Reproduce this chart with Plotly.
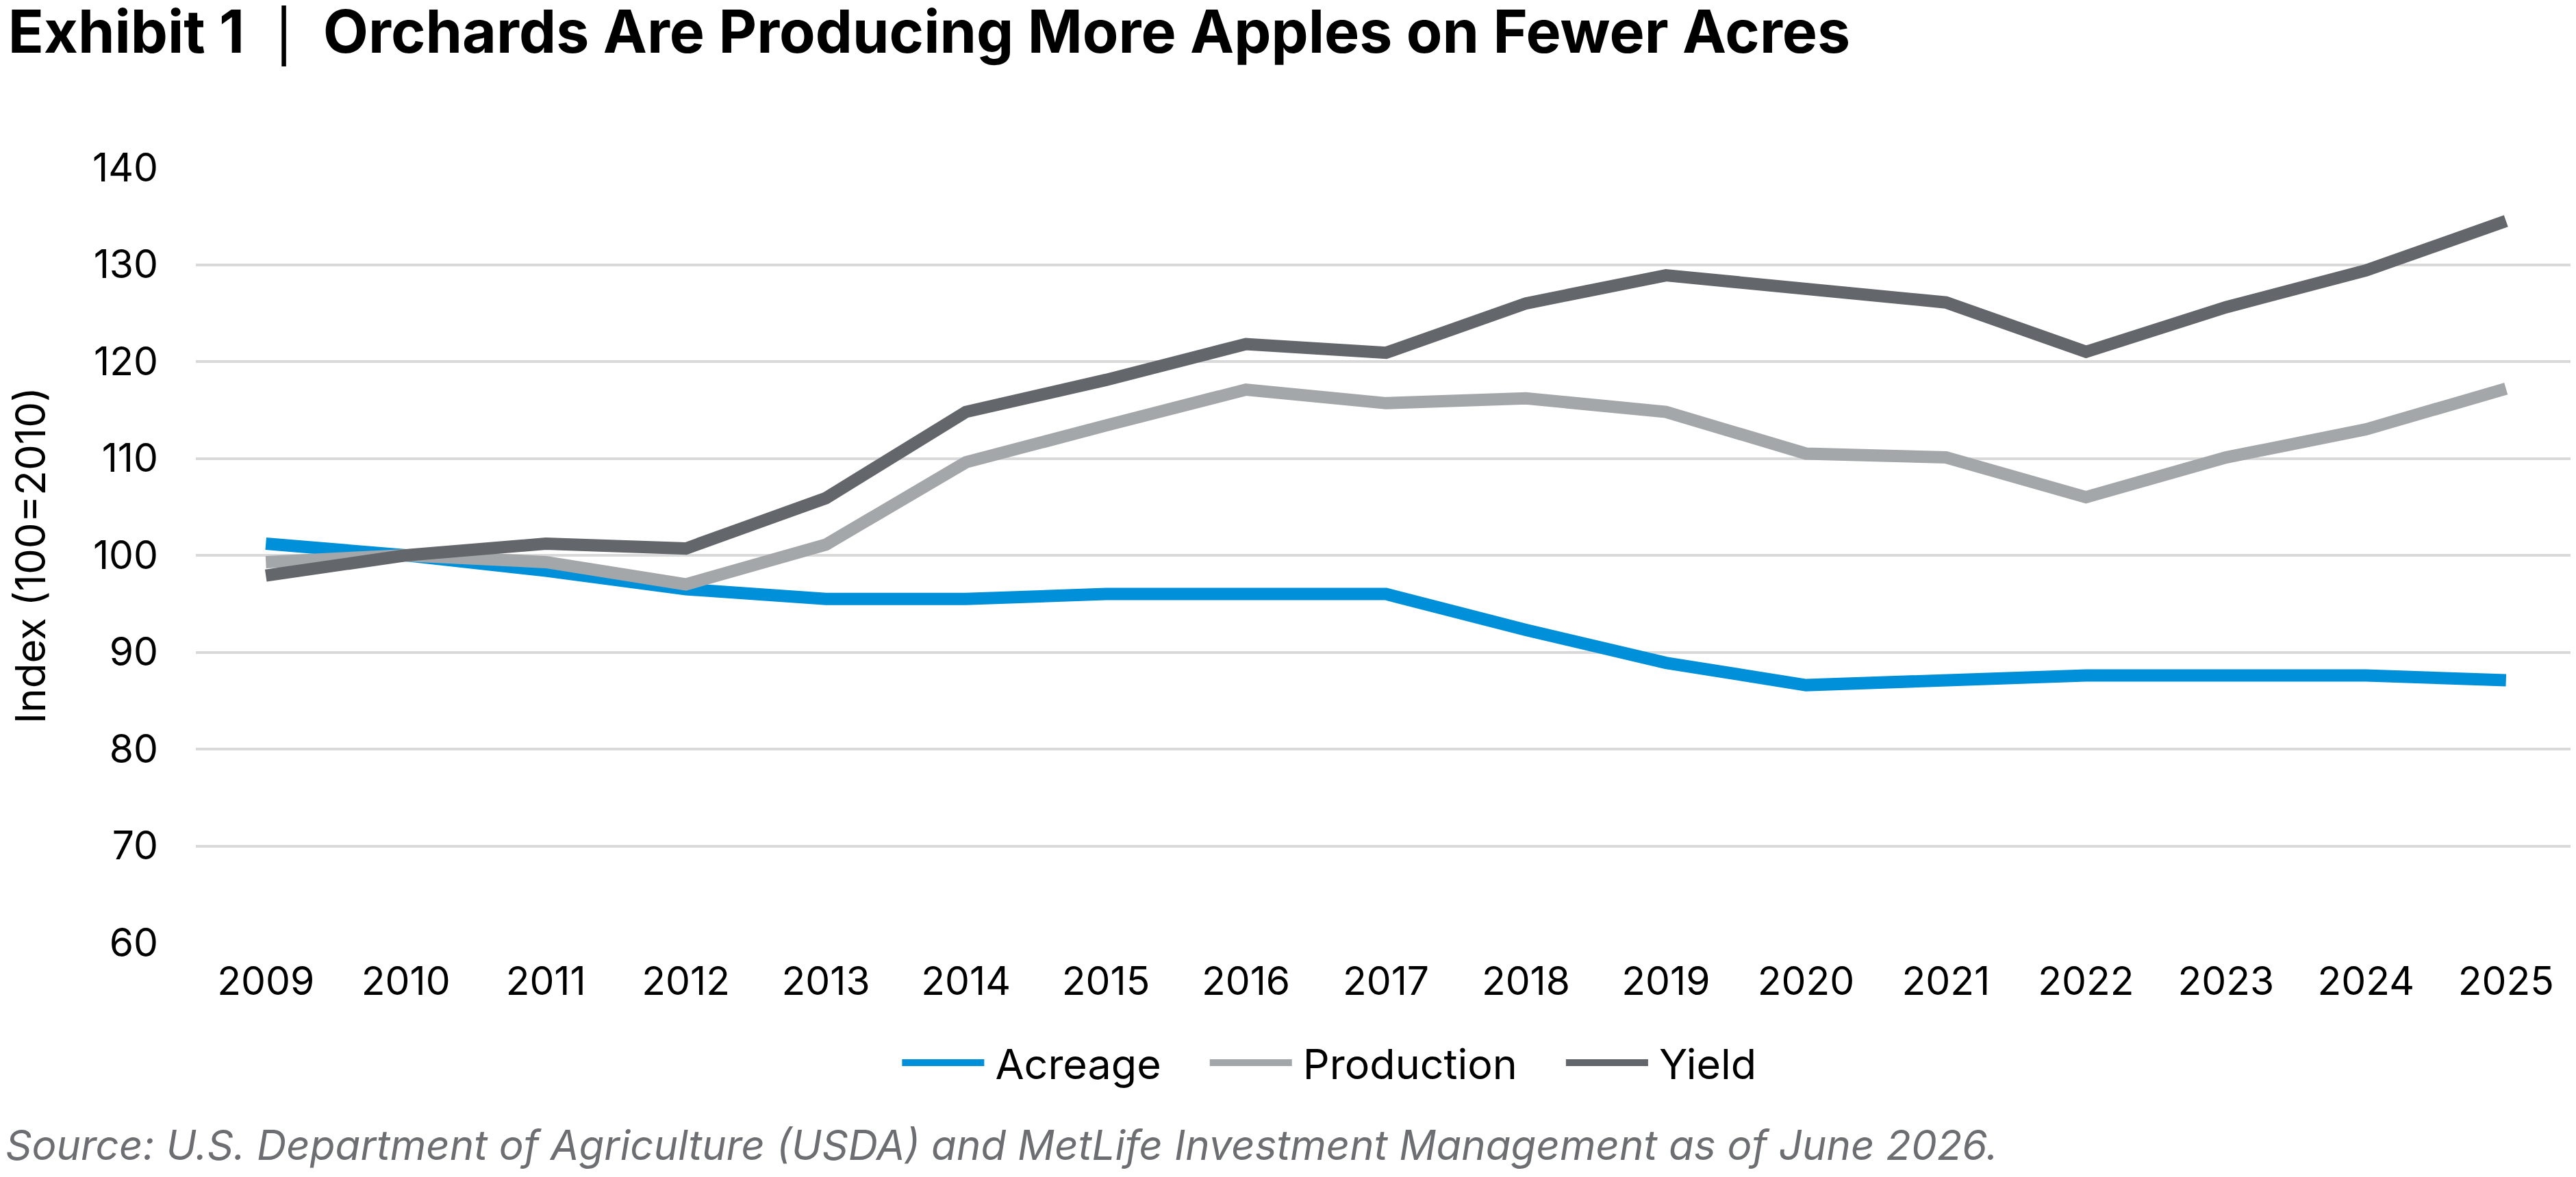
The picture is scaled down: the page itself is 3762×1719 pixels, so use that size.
import plotly.graph_objects as go

years = [str(y) for y in range(2009, 2026)]

acreage = [101.2, 100.0, 98.4, 96.5, 95.5, 95.5, 96.0, 96.0, 96.0, 92.3, 88.9,
           86.6, 87.0, 87.6, 87.6, 87.6, 87.1]
production = [99.3, 100.0, 99.3, 97.0, 101.1, 109.6, 113.4, 117.1, 115.7, 116.2,
              114.8, 110.5, 110.1, 106.0, 110.1, 113.0, 117.2]
yield_idx = [97.9, 100.0, 101.2, 100.7, 105.9, 114.8, 118.1, 121.8, 120.9, 126.0,
             128.9, 127.5, 126.1, 121.0, 125.6, 129.4, 134.5]

y_ticks = [60, 70, 80, 90, 100, 110, 120, 130, 140]

series = [
    ("Acreage", acreage, "#0090DA"),
    ("Production", production, "#A4A7A9"),
    ("Yield", yield_idx, "#63666A"),
]

FONT = "Inter"
SP = "\u2002"

fig = go.Figure()
for name, vals, color in series:
    # thin space before, em space after -> spacing like the reference legend
    label = "\u2009" + name + "\u2003"
    fig.add_trace(go.Scatter(x=years, y=vals, name=label, mode="lines",
                             line=dict(color=color, width=18)))

# page body has an 8px margin, so the figure is 8px smaller than the window
fig.update_layout(
    width=3754, height=1711,
    margin=dict(l=278, r=0, t=237, b=342),
    paper_bgcolor="white", plot_bgcolor="white",
    font=dict(family=FONT, size=57, color="black"),
    title=dict(
        text="Exhibit 1" + SP + "<span style='font-weight:400'>|</span>" + SP
             + "Orchards Are Producing More Apples on Fewer Acres",
        font=dict(family=FONT, size=86, color="black", weight=700),
        xref="container", x=0.001, xanchor="left",
        yref="container", y=0.995, yanchor="top",
    ),
    legend=dict(
        orientation="h", x=0.485, xanchor="center", y=-0.155, yanchor="middle",
        font=dict(family=FONT, size=61), itemwidth=120,
    ),
    showlegend=True,
)

fig.update_xaxes(
    type="category", range=[-0.5, 16.5], showgrid=False, showline=False,
    zeroline=False, ticks="", ticklabelstandoff=18,
    tickfont=dict(family=FONT, size=57),
)
fig.update_yaxes(
    range=[60, 140], tickvals=y_ticks, showgrid=True, gridcolor="#D9D9D9",
    gridwidth=4, zeroline=False, showline=False, ticks="",
    ticklabelstandoff=54, tickfont=dict(family=FONT, size=57),
    title=dict(text="Index (100=2010)", font=dict(family=FONT, size=60), standoff=64),
)

fig.add_annotation(
    text="Source: U.S. Department of Agriculture (USDA) and MetLife Investment Management as of June 2026.",
    xref="paper", yref="paper", x=-0.0805, y=-0.261, xanchor="left", yanchor="middle",
    showarrow=False, font=dict(family=FONT, size=60, color="#6D6E71", style="italic"),
)

fig.write_html("out.html")
